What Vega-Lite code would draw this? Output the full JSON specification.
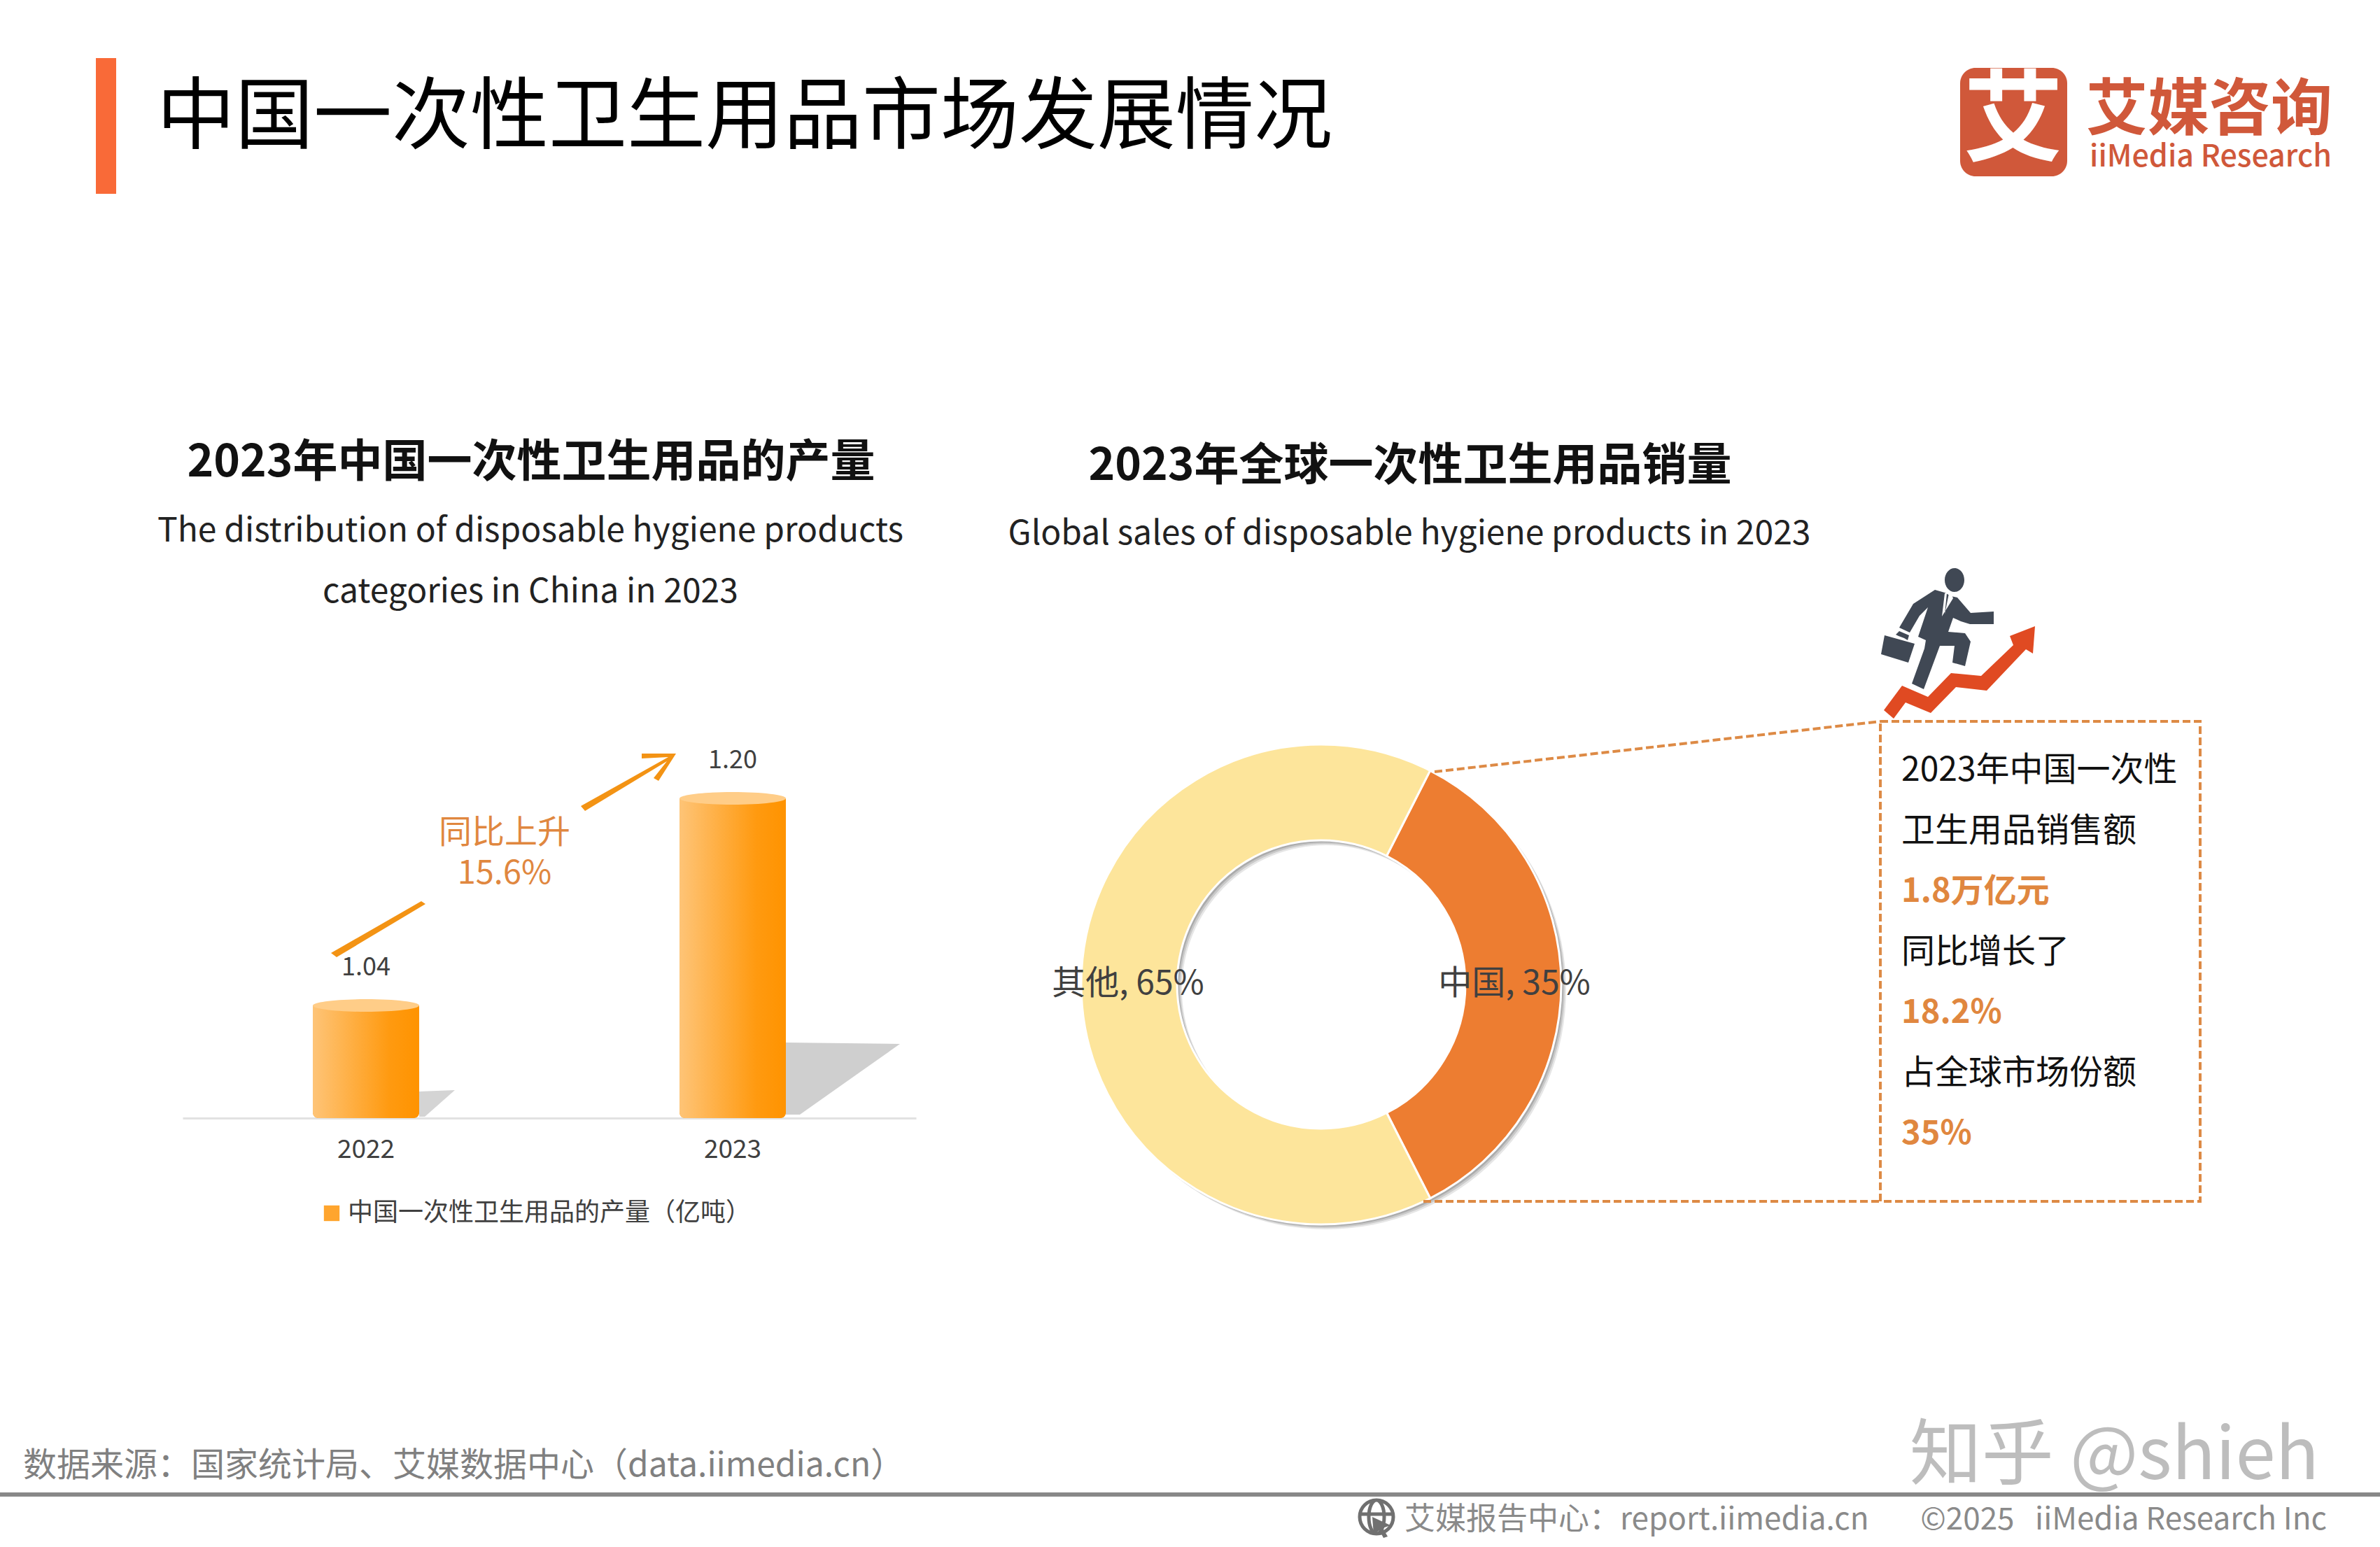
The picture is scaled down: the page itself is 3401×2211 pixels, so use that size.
{
  "$schema": "https://vega.github.io/schema/vega-lite/v6.json",
  "width": 3401,
  "height": 2211,
  "autosize": {"type": "fit", "contains": "padding"},
  "padding": 0,
  "background": "white",
  "config": {"view": {"stroke": null}, "text": {"font": "Noto Sans CJK SC"}},
  "datasets": {
    "bars": [
      {"year": "2022", "value": 1.04, "series": "中国一次性卫生用品的产量（亿吨）"},
      {"year": "2023", "value": 1.20, "series": "中国一次性卫生用品的产量（亿吨）"}
    ],
    "shares": [
      {"name": "中国", "share": 35, "label": "中国, 35%"},
      {"name": "其他", "share": 65, "label": "其他, 65%"}
    ],
    "callout": [
      {"line": 1, "kind": "body", "label": "2023年中国一次性"},
      {"line": 2, "kind": "body", "label": "卫生用品销售额"},
      {"line": 3, "kind": "figure", "label": "1.8万亿元"},
      {"line": 4, "kind": "body", "label": "同比增长了"},
      {"line": 5, "kind": "figure", "label": "18.2%"},
      {"line": 6, "kind": "body", "label": "占全球市场份额"},
      {"line": 7, "kind": "figure", "label": "35%"}
    ]
  },
  "resolve": {"scale": {"y": "independent"}},
  "layer": [
    {
      "data": {"values": [{"item": "accent"}]},
      "mark": {"type": "rect", "color": "#F96A38"},
      "encoding": {"x": {"value": 137}, "x2": {"value": 166}, "y": {"value": 83}, "y2": {"value": 277}}
    },
    {
      "data": {"values": [{"label": "中国一次性卫生用品市场发展情况"}]},
      "mark": {"type": "text", "align": "left", "fontSize": 112, "color": "#000000"},
      "encoding": {"x": {"value": 224}, "y": {"value": 170}, "text": {"field": "label"}}
    },
    {
      "data": {"values": [{"item": "logo"}]},
      "mark": {"type": "rect", "color": "#D0583A", "cornerRadius": 22},
      "encoding": {"x": {"value": 2801}, "x2": {"value": 2954}, "y": {"value": 97}, "y2": {"value": 252}}
    },
    {
      "data": {"values": [{"label": "艾"}]},
      "mark": {"type": "text", "fontSize": 142, "fontWeight": "bold", "color": "#FFFFFF"},
      "encoding": {"x": {"value": 2877}, "y": {"value": 176}, "text": {"field": "label"}}
    },
    {
      "data": {"values": [{"label": "艾媒咨询"}]},
      "mark": {"type": "text", "align": "left", "fontSize": 88, "fontWeight": "bold", "color": "#D0583A"},
      "encoding": {"x": {"value": 2981}, "y": {"value": 159}, "text": {"field": "label"}}
    },
    {
      "data": {"values": [{"label": "iiMedia Research"}]},
      "mark": {"type": "text", "align": "left", "fontSize": 43, "fontWeight": 500, "color": "#D0583A"},
      "encoding": {"x": {"value": 2986}, "y": {"value": 225}, "text": {"field": "label"}}
    },
    {
      "data": {"values": [{"label": "2023年中国一次性卫生用品的产量"}]},
      "mark": {"type": "text", "fontSize": 64, "fontWeight": "bold", "color": "#111111"},
      "encoding": {"x": {"value": 759}, "y": {"value": 662}, "text": {"field": "label"}}
    },
    {
      "data": {"values": [{"label": "The distribution of disposable hygiene products"}]},
      "mark": {"type": "text", "fontSize": 48, "color": "#222222"},
      "encoding": {"x": {"value": 758}, "y": {"value": 760}, "text": {"field": "label"}}
    },
    {
      "data": {"values": [{"label": "categories in China in 2023"}]},
      "mark": {"type": "text", "fontSize": 48, "color": "#222222"},
      "encoding": {"x": {"value": 758}, "y": {"value": 847}, "text": {"field": "label"}}
    },
    {
      "data": {"values": [{"label": "2023年全球一次性卫生用品销量"}]},
      "mark": {"type": "text", "fontSize": 64, "fontWeight": "bold", "color": "#111111"},
      "encoding": {"x": {"value": 2015}, "y": {"value": 667}, "text": {"field": "label"}}
    },
    {
      "data": {"values": [{"label": "Global sales of disposable hygiene products in 2023"}]},
      "mark": {"type": "text", "fontSize": 48, "color": "#222222"},
      "encoding": {"x": {"value": 2014}, "y": {"value": 764}, "text": {"field": "label"}}
    },
    {
      "data": {"name": "bars"},
      "layer": [
        {
          "data": {"values": [{"year": "2022", "floor": 0.953}]},
          "mark": {"type": "point", "filled": true, "opacity": 1, "size": 4, "color": "#D4D4D4", "shape": "M76,-38L127,-40L84,-2L76,-2Z"},
          "encoding": {
            "x": {
              "field": "year", "type": "nominal",
              "axis": {
                "title": null, "labelAngle": 0, "ticks": false, "offset": -613,
                "domainColor": "#E2E2E2", "domainWidth": 3,
                "labelFontSize": 37, "labelColor": "#404040", "labelFont": "Noto Sans CJK SC", "labelPadding": 27
              }
            },
            "y": {"field": "floor", "type": "quantitative", "axis": null}
          }
        },
        {
          "data": {"values": [{"year": "2023", "floor": 0.953}]},
          "mark": {"type": "point", "filled": true, "opacity": 1, "size": 4, "color": "#CFCFCF", "shape": "M76,-108L239,-106L96,-5L76,-5Z"},
          "encoding": {
            "x": {"field": "year", "type": "nominal"},
            "y": {"field": "floor", "type": "quantitative", "axis": null}
          }
        },
        {
          "mark": {"type": "bar", "width": 152, "cornerRadiusBottomLeft": 8, "cornerRadiusBottomRight": 8},
          "encoding": {
            "x": {
              "field": "year", "type": "nominal",
              "scale": {"domain": ["2022", "2023"], "range": [261, 1309], "paddingInner": 0, "paddingOuter": 0}
            },
            "y": {
              "field": "value", "type": "quantitative",
              "scale": {"domain": [0.953, 1.2], "range": [1598, 1141], "zero": false, "nice": false},
              "axis": null
            },
            "y2": {"datum": 0.953},
            "fill": {
              "field": "series", "type": "nominal",
              "scale": {"range": ["#FFA52E"]},
              "legend": {
                "orient": "none", "legendX": 456, "legendY": 1716, "title": null, "padding": 0,
                "symbolType": "square", "symbolSize": 500, "symbolStrokeWidth": 0, "labelOffset": 5,
                "labelFontSize": 36, "labelColor": "#404040", "labelFont": "Noto Sans CJK SC", "labelLimit": 700
              }
            }
          }
        },
        {
          "mark": {
            "type": "bar", "width": 152, "cornerRadiusBottomLeft": 8, "cornerRadiusBottomRight": 8,
            "color": {"gradient": "linear", "x1": 0, "y1": 0, "x2": 1, "y2": 0, "stops": [{"offset": 0, "color": "#FEC477"}, {"offset": 0.72, "color": "#FF9A10"}, {"offset": 1, "color": "#FF9300"}]}
          },
          "encoding": {
            "x": {"field": "year", "type": "nominal"},
            "y": {"field": "value", "type": "quantitative"},
            "y2": {"datum": 0.953}
          }
        },
        {
          "mark": {"type": "point", "filled": true, "opacity": 1, "size": 4, "color": "#FFCD88", "shape": "M-76,0A76,9 0 1 1 76,0A76,9 0 1 1 -76,0Z"},
          "encoding": {"x": {"field": "year", "type": "nominal"}, "y": {"field": "value", "type": "quantitative"}}
        },
        {
          "mark": {"type": "text", "fontSize": 36, "color": "#404040", "dy": -54},
          "encoding": {
            "x": {"field": "year", "type": "nominal"},
            "y": {"field": "value", "type": "quantitative"},
            "text": {"field": "value", "type": "quantitative", "format": ".2f"}
          }
        }
      ]
    },
    {
      "data": {"values": [{"item": "growth arrow"}]},
      "mark": {"type": "point", "filled": true, "opacity": 1, "size": 4, "color": "#F39314", "shape": "M-4,4L125,-70L131,-66L4,10Z M353,-206L478,-276L440,-274L440,-281L489,-281L464,-242L457,-246L476,-270L359,-199Z"},
      "encoding": {"x": {"value": 477}, "y": {"value": 1358}}
    },
    {
      "data": {"values": [{"label": "同比上升"}]},
      "mark": {"type": "text", "fontSize": 47, "color": "#E0873F"},
      "encoding": {"x": {"value": 721}, "y": {"value": 1191}, "text": {"field": "label"}}
    },
    {
      "data": {"values": [{"label": "15.6%"}]},
      "mark": {"type": "text", "fontSize": 47, "color": "#E0873F"},
      "encoding": {"x": {"value": 721}, "y": {"value": 1249}, "text": {"field": "label"}}
    },
    {
      "data": {"values": [{"item": "donut shadow outer"}]},
      "mark": {"type": "arc", "innerRadius": 206, "outerRadius": 343, "color": "#666666", "opacity": 0.16},
      "encoding": {"x": {"value": 1895}, "y": {"value": 1414}, "theta": {"value": 0}, "theta2": {"value": 6.2832}}
    },
    {
      "data": {"values": [{"item": "donut shadow middle"}]},
      "mark": {"type": "arc", "innerRadius": 206, "outerRadius": 343, "color": "#666666", "opacity": 0.22},
      "encoding": {"x": {"value": 1893}, "y": {"value": 1412}, "theta": {"value": 0}, "theta2": {"value": 6.2832}}
    },
    {
      "data": {"values": [{"item": "donut shadow inner"}]},
      "mark": {"type": "arc", "innerRadius": 206, "outerRadius": 343, "color": "#666666", "opacity": 0.3},
      "encoding": {"x": {"value": 1891}, "y": {"value": 1410}, "theta": {"value": 0}, "theta2": {"value": 6.2832}}
    },
    {
      "data": {"name": "shares"},
      "layer": [
        {
          "mark": {"type": "arc", "innerRadius": 206, "outerRadius": 343, "stroke": "#FFFFFF", "strokeWidth": 3},
          "encoding": {
            "x": {"value": 1888}, "y": {"value": 1407},
            "theta": {
              "field": "share", "type": "quantitative", "stack": true,
              "scale": {"domain": [0, 100], "range": [0.471, 6.754]}
            },
            "order": {"field": "share", "type": "quantitative"},
            "color": {
              "field": "name", "type": "nominal",
              "scale": {"domain": ["中国", "其他"], "range": ["#ED7D31", "#FDE59B"]},
              "legend": null
            }
          }
        },
        {
          "mark": {"type": "text", "fontSize": 48, "color": "#404040"},
          "encoding": {
            "x": {"value": 1888}, "y": {"value": 1407},
            "theta": {"field": "share", "type": "quantitative", "stack": true},
            "radius": {"value": 276},
            "order": {"field": "share", "type": "quantitative"},
            "text": {"field": "label"}
          }
        }
      ]
    },
    {
      "data": {"values": [{"item": "callout lead top"}]},
      "mark": {"type": "rule", "color": "#DD8A45", "strokeWidth": 4, "strokeDash": [11, 5]},
      "encoding": {"x": {"value": 2050}, "y": {"value": 1103}, "x2": {"value": 2687}, "y2": {"value": 1031}}
    },
    {
      "data": {"values": [{"item": "callout lead bottom"}]},
      "mark": {"type": "rule", "color": "#DD8A45", "strokeWidth": 4, "strokeDash": [11, 5]},
      "encoding": {"x": {"value": 2034}, "y": {"value": 1717}, "x2": {"value": 2687}, "y2": {"value": 1717}}
    },
    {
      "data": {"values": [{"item": "callout box"}]},
      "mark": {"type": "rect", "fillOpacity": 0, "stroke": "#DD8A45", "strokeWidth": 4, "strokeDash": [11, 5]},
      "encoding": {"x": {"value": 2687}, "x2": {"value": 3144}, "y": {"value": 1031}, "y2": {"value": 1717}}
    },
    {
      "data": {"name": "callout"},
      "layer": [
        {
          "transform": [{"filter": "datum.kind == 'body'"}],
          "mark": {"type": "text", "align": "left", "fontSize": 48, "color": "#111111"},
          "encoding": {
            "x": {"value": 2717},
            "y": {"field": "line", "type": "ordinal", "scale": {"type": "point", "domain": [1, 2, 3, 4, 5, 6, 7], "range": [1102, 1621], "padding": 0}, "axis": null},
            "text": {"field": "label"}
          }
        },
        {
          "transform": [{"filter": "datum.kind == 'figure'"}],
          "mark": {"type": "text", "align": "left", "fontSize": 47, "fontWeight": "bold", "color": "#E0873F"},
          "encoding": {
            "x": {"value": 2717},
            "y": {"field": "line", "type": "ordinal"},
            "text": {"field": "label"}
          }
        }
      ]
    },
    {
      "data": {"values": [{"item": "rising arrow"}]},
      "mark": {"type": "point", "filled": true, "opacity": 1, "size": 4, "color": "#E04A22", "shape": "M72,235L98,200L135,216L168,182L211,186L257,142L252,129L288,115L285,154L275,148L219,207L175,202L139,239L103,224L86,247Z"},
      "encoding": {"x": {"value": 2620}, "y": {"value": 780}}
    },
    {
      "data": {"values": [{"item": "runner"}]},
      "mark": {"type": "point", "filled": true, "opacity": 1, "size": 4, "color": "#404854", "shape": "M159,49A14,17 0 1 1 187,49A14,17 0 1 1 159,49Z M145,63L114,83L94,117L109,124L123,100L135,88L121,130L132,135L130,147L112,197L129,205L152,143L173,143L170,167L188,172L196,137L188,125L164,123L171,103L182,108L195,112L229,112L229,94L196,96L177,74L168,72L159,67Z M73,128L116,140L107,167L68,155Z M89,127L94,122L108,128L106,135L101,132L93,129Z"},
      "encoding": {"x": {"value": 2620}, "y": {"value": 780}}
    },
    {
      "data": {"values": [{"item": "runner shirt"}]},
      "mark": {"type": "point", "filled": true, "opacity": 1, "size": 4, "color": "#FFFFFF", "shape": "M159,68L155,101L171,75L168,68L165,68L159,98L162,68Z"},
      "encoding": {"x": {"value": 2620}, "y": {"value": 780}}
    },
    {
      "data": {"values": [{"label": "数据来源：国家统计局、艾媒数据中心（data.iimedia.cn）"}]},
      "mark": {"type": "text", "align": "left", "fontSize": 48, "color": "#808080"},
      "encoding": {"x": {"value": 33}, "y": {"value": 2096}, "text": {"field": "label"}}
    },
    {
      "data": {"values": [{"label": "知乎 @shieh"}]},
      "mark": {"type": "text", "align": "right", "fontSize": 103, "color": "#BDBDBD"},
      "encoding": {"x": {"value": 3314}, "y": {"value": 2083}, "text": {"field": "label"}}
    },
    {
      "data": {"values": [{"item": "footer line"}]},
      "mark": {"type": "rect", "color": "#888888"},
      "encoding": {"x": {"value": 0}, "x2": {"value": 3401}, "y": {"value": 2133}, "y2": {"value": 2139}}
    },
    {
      "data": {"values": [{"item": "globe"}]},
      "mark": {"type": "point", "filled": false, "opacity": 1, "size": 4, "color": "#707070", "strokeWidth": 5, "shape": "M-24,0A24,24 0 1 1 24,0A24,24 0 1 1 -24,0Z M-24,-4H24 M0,-24A11,24 0 0 0 0,24 M0,-24A11,24 0 0 1 0,24"},
      "encoding": {"x": {"value": 1967}, "y": {"value": 2168}}
    },
    {
      "data": {"values": [{"item": "globe cursor"}]},
      "mark": {"type": "point", "filled": true, "opacity": 1, "size": 4, "color": "#707070", "shape": "M-6,0L20,12L9,16L16,28L10,30L4,19L-4,26Z"},
      "encoding": {"x": {"value": 1967}, "y": {"value": 2168}}
    },
    {
      "data": {"values": [{"label": "艾媒报告中心：report.iimedia.cn"}]},
      "mark": {"type": "text", "align": "left", "fontSize": 44, "color": "#8A8A8A"},
      "encoding": {"x": {"value": 2007}, "y": {"value": 2173}, "text": {"field": "label"}}
    },
    {
      "data": {"values": [{"label": "©2025\u00a0\u00a0\u00a0iiMedia Research Inc"}]},
      "mark": {"type": "text", "align": "right", "fontSize": 44, "color": "#8A8A8A"},
      "encoding": {"x": {"value": 3325}, "y": {"value": 2173}, "text": {"field": "label"}}
    }
  ]
}
